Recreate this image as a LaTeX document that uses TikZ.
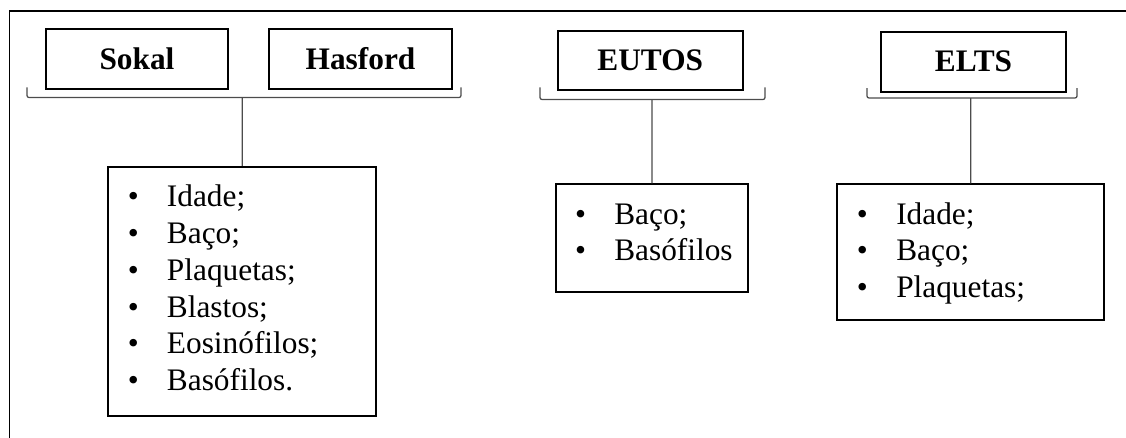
\documentclass[tikz,border=0pt]{standalone}
\usepackage{fontspec}
\setmainfont{Liberation Serif}
\usetikzlibrary{fit}
\begin{document}
\begin{tikzpicture}[x=0.75pt,y=-0.75pt,
  frameline/.style={line width=1.4pt,black},
  boxline/.style={draw,line width=1.4pt,inner sep=0pt},
  hdrtext/.style={inner sep=0pt,anchor=base,yshift=-7.6pt,font=\fontsize{23.5}{27.6}\selectfont\bfseries},
  bracket/.style={draw=black!70,line width=0.95pt,rounded corners=1.5pt},
  stem/.style={draw=black!70,line width=0.95pt},
  item/.style={inner sep=0pt,anchor=base west,font=\fontsize{23.5}{27.6}\selectfont},
  bul/.style={inner sep=0pt,anchor=base,font=\fontsize{23.5}{27.6}\selectfont},
]
\useasboundingbox (0,0) rectangle (1126,437);
% outer frame (open to the right and bottom)
\draw[frameline] (9.5,450) -- (9.5,10.8) -- (1140,10.8);

% header boxes
\node[boxline, fit={(45.7,29)(228.3,89.3)}] (sokal) {};
\node[boxline, fit={(268.7,29)(452.3,89.3)}] (hasford) {};
\node[boxline, fit={(557.7,30.7)(742.8,90)}] (eutos) {};
\node[boxline, fit={(881,31.7)(1066,91.7)}] (elts) {};
\node[hdrtext] (sokalT) at (sokal.center) {Sokal};
\node[hdrtext] (hasfordT) at (hasford.center) {Hasford};
\node[hdrtext] (eutosT) at (eutos.center) {EUTOS};
\node[hdrtext] (eltsT) at (elts.center) {ELTS};

% list boxes
\node[boxline, fit={(108.3,166.7)(376,416)}] (listA) {};
\node[boxline, fit={(555.7,184.3)(748.3,291.7)}] (listB) {};
\node[boxline, fit={(837.3,184.3)(1104,320)}] (listC) {};

% brackets and stems
\coordinate (bA) at (242.2,97.5);
\coordinate (bB) at (652,99.5);
\coordinate (bC) at (970.7,98);
\draw[bracket] (27,87.3) -- (27,97.5) -- (461,97.5) -- (461,87.3);
\draw[bracket] (540,87.3) -- (540,99.5) -- (765,99.5) -- (765,87.3);
\draw[bracket] (867,88) -- (867,98) -- (1077,98) -- (1077,88);
\draw[stem] (bA) -- (listA.north);
\draw[stem] (bB) -- (listB.north);
\draw[stem] (bC) -- (listC.north);

% list A items
\foreach \t [count=\i] in {Idade;,Baço;,Plaquetas;,Blastos;,Eosinófilos;,Basófilos.}{
  \node[bul] (aB\i) at ({133.3},{206.7+36.8*(\i-1)}) {\textbullet};
  \node[item] (aT\i) at ({166.7},{206.7+36.8*(\i-1)}) {\t};
}
% list B items
\foreach \t [count=\i] in {Baço;,Basófilos}{
  \node[bul] (bB\i) at ({580.7},{224+36.8*(\i-1)}) {\textbullet};
  \node[item] (bT\i) at ({614},{224+36.8*(\i-1)}) {\t};
}
% list C items
\foreach \t [count=\i] in {Idade;,Baço;,Plaquetas;}{
  \node[bul] (cB\i) at ({862.3},{224+36.8*(\i-1)}) {\textbullet};
  \node[item] (cT\i) at ({896},{224+36.8*(\i-1)}) {\t};
}
\end{tikzpicture}
\end{document}
